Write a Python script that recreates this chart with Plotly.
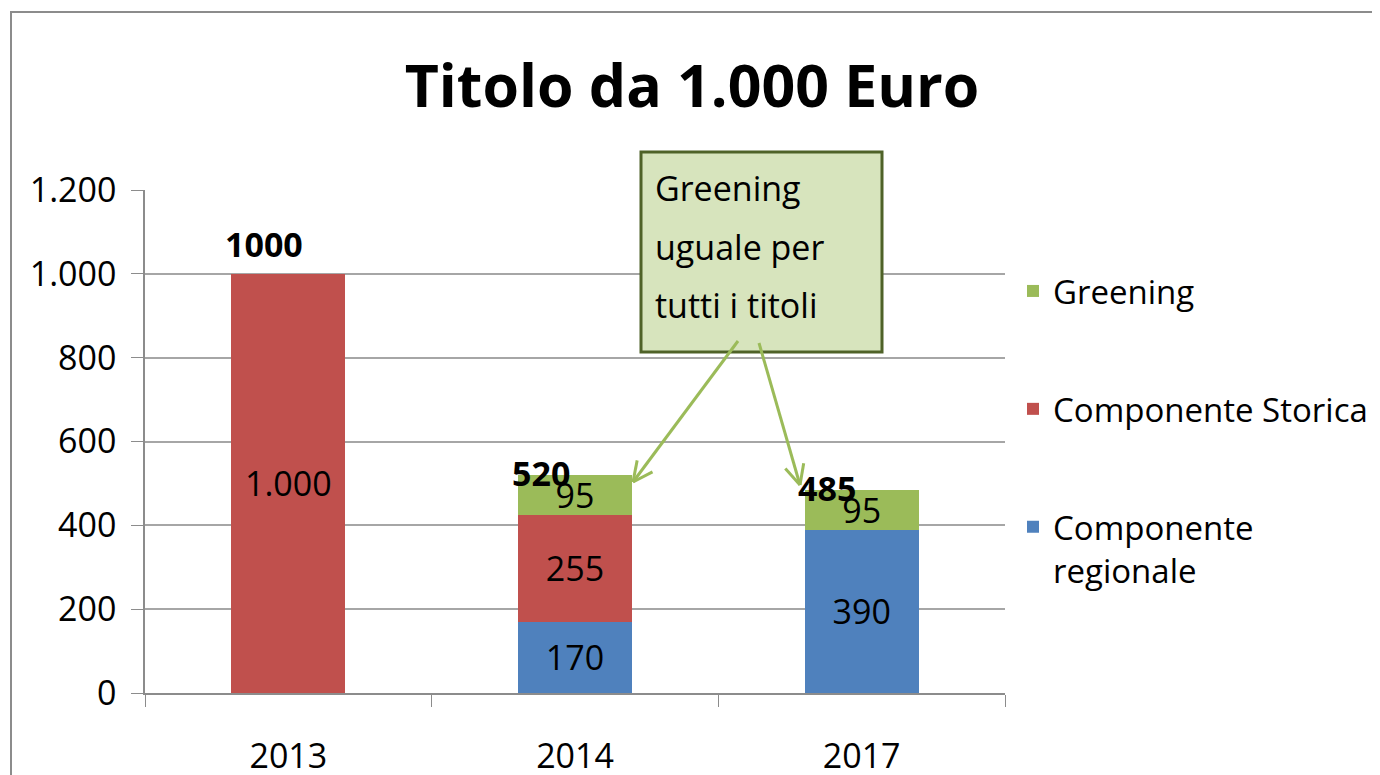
import plotly.graph_objects as go

# ---- data ----
categories = ["2013", "2014", "2017"]
regionale = [0, 170, 390]
storica = [1000, 255, 0]
greening = [0, 95, 95]
totals = [1000, 520, 485]
ytick_vals = [0, 200, 400, 600, 800, 1000, 1200]
ytick_text = ["0", "200", "400", "600", "800", "1.000", "1.200"]
callout_lines = ["Greening", "uguale per", "tutti i titoli"]

FONT = "Open Sans"
FS = 34
OFF = 8  # default page body margin
W, H = 1380 - OFF, 775 - OFF
# plot area in page pixels
PL, PR, PT, PB = 145, 1005, 190, 693
L, R, T, B = PL - OFF, PR - OFF, PT - OFF, PB - OFF


def px(x, y):
    """page pixel -> paper coords"""
    return (x - PL) / (PR - PL), (PB - y) / (PB - PT)


def fmt(v):
    return f"{v:,}".replace(",", ".") if v else ""


fig = go.Figure()
series = [
    ("Componente<br>regionale", regionale, "#4f81bd", 3),
    ("Componente Storica", storica, "#c0504d", 2),
    ("Greening", greening, "#9bbb59", 1),
]
for i, (name, vals, col, rank) in enumerate(series):
    fig.add_trace(go.Bar(
        x=categories, y=vals, name=name, marker=dict(color=col, line=dict(width=0)),
        text=[fmt(v) for v in vals], textposition="inside", insidetextanchor="middle",
        constraintext="none", textangle=0, cliponaxis=False,
        textfont=dict(family=FONT, size=FS, color="black"),
        legendgroup=str(i), legendrank=rank, hoverinfo="skip",
    ))

# total labels (x by category index)
shifts = [(-24, 30), (-34, 2), (-35, 2)]
for idx, (t, (dx, dy)) in enumerate(zip(totals, shifts)):
    fig.add_annotation(x=idx, y=t, xref="x", yref="y", text=f"<b>{t}</b>", showarrow=False,
                       xshift=dx, yshift=dy, font=dict(family=FONT, size=FS, color="black"))

shapes = []
# outer chart border
shapes.append(dict(type="rect", xref="paper", yref="paper",
                   x0=px(11, 0)[0], x1=px(1395, 0)[0], y0=px(0, 790)[1], y1=px(0, 12)[1],
                   line=dict(color="#8c8c8c", width=2), fillcolor="rgba(0,0,0,0)", layer="below"))
# callout box
x0, y0 = px(641, 352)
x1, y1 = px(882, 152)
shapes.append(dict(type="rect", xref="paper", yref="paper", x0=x0, x1=x1, y0=y0, y1=y1,
                   line=dict(color="#4f6228", width=3), fillcolor="#d7e4bd", layer="above"))


# arrows (open V heads)
def arrow(tail, tip, head=22):
    import math
    (tx, ty), (hx, hy) = tail, tip
    ang = math.atan2(ty - hy, tx - hx)
    pts = []
    for da in (0.45, -0.45):
        pts.append((hx + head * math.cos(ang + da), hy + head * math.sin(ang + da)))
    segs = [(tail, tip), (pts[0], tip), (pts[1], tip)]
    out = []
    for a, b in segs:
        ax_, ay_ = px(*a)
        bx_, by_ = px(*b)
        out.append(dict(type="line", xref="paper", yref="paper", x0=ax_, y0=ay_, x1=bx_, y1=by_,
                        line=dict(color="#9bbb59", width=3), layer="above"))
    return out


shapes += arrow((738, 341), (633, 482))
shapes += arrow((759, 343), (800, 485))

for line, yy in zip(callout_lines, [188, 247, 305]):
    xx, yp = px(653, yy)
    fig.add_annotation(x=xx, y=yp, xref="paper", yref="paper", text=line, showarrow=False,
                       xanchor="left", yanchor="middle",
                       font=dict(family=FONT, size=FS, color="black"))

fig.update_layout(
    width=W, height=H,
    margin=dict(l=L, r=W - R, t=T, b=H - B, pad=0, autoexpand=False),
    paper_bgcolor="white", plot_bgcolor="white",
    barmode="stack", bargap=0.603,
    font=dict(family=FONT, size=FS, color="black"),
    title=dict(text="<b>Titolo da 1.000 Euro</b>", x=(692 - OFF) / W, xanchor="center",
               y=1 - (86 - OFF) / H, yanchor="middle",
               font=dict(family=FONT, size=59, color="black")),
    shapes=shapes,
    showlegend=True,
    legend=dict(x=px(1013, 0)[0], xanchor="left", y=px(0, 263)[1], yanchor="top",
                traceorder="grouped", tracegroupgap=72, valign="top",
                font=dict(family=FONT, size=33, color="black"), itemwidth=30,
                bgcolor="rgba(0,0,0,0)"),
    xaxis=dict(type="category", range=[-0.5, 2.5], tickson="boundaries", ticks="outside",
               ticklen=12, automargin=False,
               tickcolor="#8c8c8c", showline=True, linecolor="#8c8c8c", linewidth=1.5,
               showgrid=False, ticklabelstandoff=32, tickangle=0,
               tickfont=dict(family=FONT, size=FS, color="black")),
    yaxis=dict(range=[0, 1200], tickvals=ytick_vals, ticktext=ytick_text, ticks="outside",
               ticklen=12, tickcolor="#8c8c8c", showline=True, linecolor="#8c8c8c", linewidth=1.5,
               showgrid=True, gridcolor="#a6a6a6", gridwidth=1.5, zeroline=False, automargin=False,
               ticklabelstandoff=8, tickfont=dict(family=FONT, size=FS, color="black")),
)

fig.write_html("out.html")
